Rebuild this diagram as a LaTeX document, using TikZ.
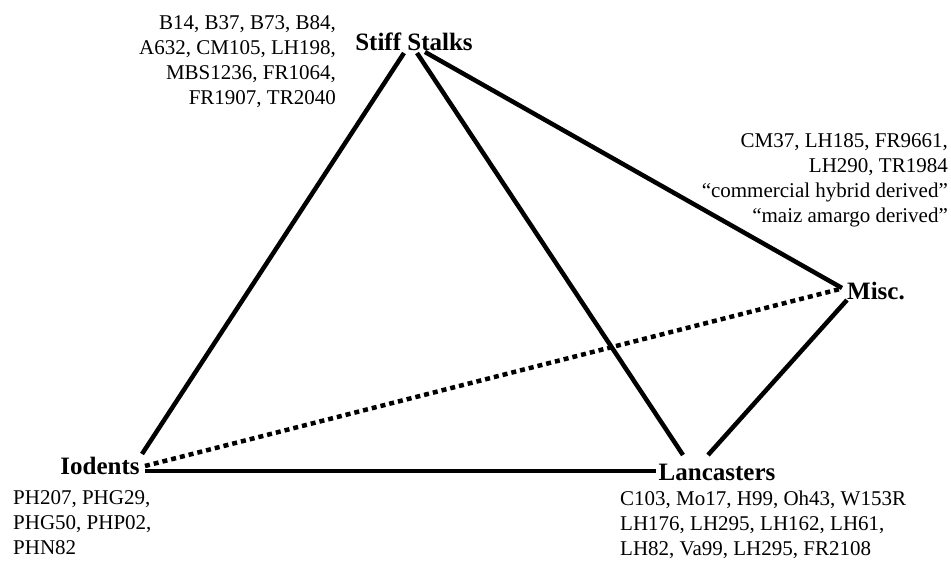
\documentclass[tikz,border=0pt]{standalone}
\usepackage{fontspec}
\setmainfont{Liberation Serif}
\begin{document}
\begin{tikzpicture}[x=1pt,y=-1pt,
  grp/.style={font=\fontsize{25}{28}\selectfont\bfseries, inner sep=0pt},
  lst/.style={font=\fontsize{21}{25}\selectfont, inner sep=0pt},
  link/.style={line width=4.5pt},
  dotlink/.style={line width=4.5pt, dash pattern=on 5pt off 4pt}]
\useasboundingbox (0,0) rectangle (951,570);
% group nodes
\node[grp] (ss) at (414,42) {Stiff Stalks};
\node[grp] (misc) at (876,291) {Misc.};
\node[grp] (iod) at (100,466) {Iodents};
\node[grp] (lan) at (717,472) {Lancasters};
% lists
\node[lst, anchor=north east, align=right] (sslist) at (336,15)
  {B14, B37, B73, B84,\\A632, CM105, LH198,\\MBS1236, FR1064,\\FR1907, TR2040};
\node[lst, anchor=north east, align=right] (misclist) at (948,133)
  {CM37, LH185, FR9661,\\LH290, TR1984\\``commercial hybrid derived''\\``maiz amargo derived''};
\node[lst, anchor=north west, align=left] (iodlist) at (13,490)
  {PH207, PHG29,\\PHG50, PHP02,\\PHN82};
\node[lst, anchor=north west, align=left] (lanlist) at (620,491)
  {C103, Mo17, H99, Oh43, W153R\\LH176, LH295, LH162, LH61,\\LH82, Va99, LH295, FR2108};
% connector ends
\coordinate (ssA) at (404,53);
\coordinate (ssB) at (417,53);
\coordinate (ssC) at (425,52);
\coordinate (iodA) at (142,454);
\coordinate (iodB) at (145,471);
\coordinate (iodC) at (145,466);
\coordinate (lanA) at (683,455);
\coordinate (lanB) at (708,455);
\coordinate (lanC) at (656,471);
\coordinate (miscA) at (842,288);
\coordinate (miscB) at (847,300);
\coordinate (miscC) at (840,289);
% connectors
\draw[link] (ssA) -- (iodA);
\draw[link] (ssB) -- (lanA);
\draw[link] (ssC) -- (miscA);
\draw[link] (miscB) -- (lanB);
\draw[link] (iodB) -- (lanC);
\draw[dotlink] (iodC) -- (miscC);
\end{tikzpicture}
\end{document}
